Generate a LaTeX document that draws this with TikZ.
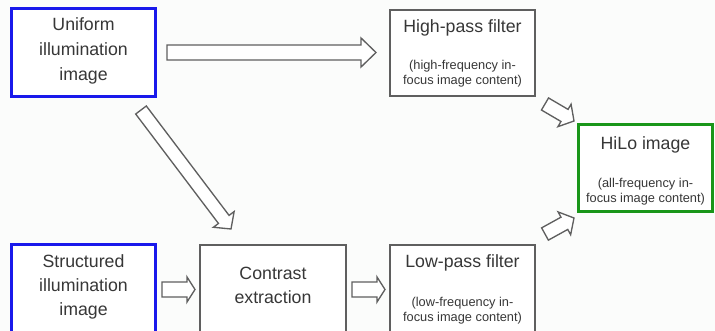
\documentclass[tikz,border=0pt]{standalone}
\usepackage{fontspec}
\setmainfont{Liberation Sans}
\usetikzlibrary{calc}
\definecolor{bgc}{RGB}{251,252,251}
\definecolor{bluec}{RGB}{25,25,235}
\definecolor{greenc}{RGB}{25,150,25}
\definecolor{grayc}{RGB}{95,95,95}
\definecolor{textc}{RGB}{55,55,55}
\newcommand\blockarrow[5]{%
  \draw[blockarr] ($(#1)!#3!90:(#2)$) -- ($(#2)!#5!(#1)!#3!-90:(#1)$) -- ($(#2)!#5!(#1)!#4!-90:(#1)$) -- (#2) -- ($(#2)!#5!(#1)!#4!90:(#1)$) -- ($(#2)!#5!(#1)!#3!90:(#1)$) -- ($(#1)!#3!-90:(#2)$) -- cycle;}
\begin{document}
\begin{tikzpicture}[x=0.75pt,y=-0.75pt,
  box/.style={draw=grayc,line width=1.1pt,fill=white,inner sep=0pt,minimum width=#1},
  box/.default={109pt},
  bluebox/.style={draw=bluec,line width=2.3pt,fill=white,inner sep=0pt,minimum width=108pt,minimum height=66pt},
  greenbox/.style={draw=greenc,line width=2.3pt,fill=white,inner sep=0pt,minimum width=100.5pt,minimum height=65.25pt},
  title/.style={text=textc,align=center,inner sep=0pt,font=\fontsize{13.3}{18.75}\selectfont},
  titleb/.style={text=textc,align=center,inner sep=0pt,font=\fontsize{13.3}{18}\selectfont},
  sub/.style={text=textc,align=center,inner sep=0pt,font=\fontsize{9.6}{11.25}\selectfont},
  blockarr/.style={draw=grayc,line width=1pt,fill=white,line join=miter}]
\useasboundingbox (0,0) rectangle (715,331);
\clip (0,0) rectangle (715,331);
\fill[bgc] (0,0) rectangle (715,331);
% boxes
\node[bluebox] (U) at (83.5,52.5) {};
\node[bluebox] (S) at (83.5,288.5) {};
\node[box,minimum height=66pt,minimum width=109.5pt] (C) at (273,289) {};
\node[box,minimum height=64.5pt,minimum width=108.75pt] (H) at (462.5,53) {};
\node[box,minimum height=66pt,minimum width=108.75pt] (L) at (462.5,289) {};
\node[greenbox] (Hi) at (645.5,168) {};
% texts
\node[title] (tU) at (83.5,51) {Uniform\\illumination\\image};
\node[titleb] (tS) at (83.5,286.5) {Structured\\illumination\\image};
\node[titleb] (tC) at (273,285) {Contrast\\extraction};
\node[title] (tH) at (462.5,27.5) {High-pass filter};
\node[sub] (sH) at (462.5,73.5) {(high-frequency in-\\focus image content)};
\node[title] (tL) at (462.5,263) {Low-pass filter};
\node[sub] (sL) at (462.5,310.5) {(low-frequency in-\\focus image content)};
\node[title] (tHi) at (645.5,144.5) {HiLo image};
\node[sub] (sHi) at (645.5,192) {(all-frequency in-\\focus image content)};
% arrow end points
\coordinate (a1s) at (167,52.5);  \coordinate (a1e) at (376,52.5);
\coordinate (a2s) at (141,110);   \coordinate (a2e) at (231,229);
\coordinate (a3s) at (545,104);   \coordinate (a3e) at (574,121);
\coordinate (a4s) at (545,234);   \coordinate (a4e) at (574,218);
\coordinate (a5s) at (162,289.5); \coordinate (a5e) at (195,289.5);
\coordinate (a6s) at (352,289.5); \coordinate (a6e) at (385,289.5);
\blockarrow{a1s}{a1e}{5.6pt}{10.9pt}{11.25pt}
\blockarrow{a2s}{a2e}{5pt}{9.75pt}{9pt}
\blockarrow{a3s}{a3e}{5.25pt}{9.75pt}{8.25pt}
\blockarrow{a4s}{a4e}{5.25pt}{9.75pt}{8.25pt}
\blockarrow{a5s}{a5e}{5.6pt}{9.4pt}{6pt}
\blockarrow{a6s}{a6e}{5.6pt}{9.4pt}{6pt}
\end{tikzpicture}
\end{document}
